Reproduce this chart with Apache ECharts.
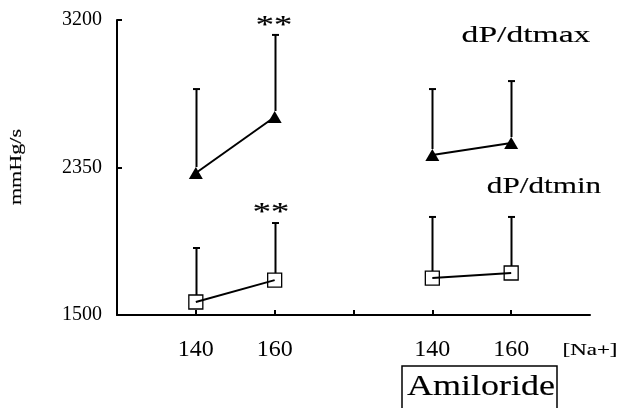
<!DOCTYPE html>
<html>
<head>
<meta charset="utf-8">
<script src="https://cdn.jsdelivr.net/npm/echarts@6/dist/echarts.min.js"></script>
<style>html,body{margin:0;padding:0;background:#fff;}#c{width:618px;height:408px;}</style>
</head>
<body>
<div id="c"></div>
<script>
// ---- data ----
const naLabels = ['140', '160', '140', '160'];
const xPositions = [1, 2, 4, 5];          // slot on the [Na+] axis (3 = gap between groups)
const groupOf = [0, 0, 1, 1];              // 0 = control, 1 = amiloride
const maxMean = [2318, 2641, 2422, 2491];  // dP/dtmax mean
const maxUpper = [2802, 3114, 2802, 2848]; // dP/dtmax mean + SD
const minMean = [1575, 1701, 1713, 1742];  // dP/dtmin mean
const minUpper = [1886, 2030, 2065, 2065]; // dP/dtmin mean + SD
const yTicks = [1500, 2350, 3200];
const xTicks = [1, 2, 3, 4, 5];

const SERIF = '"Liberation Serif", "Times New Roman", serif';
const STROKE = { stroke: '#000', lineWidth: 0.15 };

function pts(mean, g) {
  const out = [];
  for (let i = 0; i < mean.length; i++) if (groupOf[i] === g) out.push([xPositions[i], mean[i]]);
  return out;
}
function errData(mean, upper) {
  return mean.map((m, i) => [xPositions[i], m, upper[i]]);
}
function errSeries(mean, upper, off) {
  return {
    type: 'custom', z: 1, silent: true,
    data: errData(mean, upper),
    renderItem: function (params, api) {
      const p0 = api.coord([api.value(0), api.value(1)]);
      const p1 = api.coord([api.value(0), api.value(2)]);
      const x = Math.round(p0[0]) + 0.5;
      return {
        type: 'group',
        children: [
          { type: 'line', shape: { x1: x, y1: p0[1] - off, x2: x, y2: p1[1] }, style: { stroke: '#000', lineWidth: 2 } },
          { type: 'line', shape: { x1: x - 3.5, y1: p1[1], x2: x + 3.5, y2: p1[1] }, style: { stroke: '#000', lineWidth: 2 } }
        ]
      };
    }
  };
}
function triLine(g) {
  return {
    type: 'line', z: 3, data: pts(maxMean, g),
    symbol: 'triangle', symbolSize: [14, 12],
    lineStyle: { color: '#000', width: 2 },
    itemStyle: { color: '#000' },
    emphasis: { disabled: true }
  };
}
function sqLine(g) {
  return {
    type: 'line', z: 3, data: pts(minMean, g),
    symbol: 'rect', symbolSize: 14,
    lineStyle: { color: '#000', width: 2 },
    itemStyle: { color: 'rgba(255,255,255,0)', borderColor: '#000', borderWidth: 1.3 },
    emphasis: { disabled: true }
  };
}
function txt(x, y, s, size, sx, extra) {
  return Object.assign({
    type: 'text', x: x, y: y, scaleX: sx,
    style: Object.assign({ text: s, font: size + 'px ' + SERIF, fill: '#000', textAlign: 'center', textVerticalAlign: 'middle' }, STROKE)
  }, extra || {});
}

const chart = echarts.init(document.getElementById('c'), null, { renderer: 'canvas' });
chart.setOption({
  animation: false,
  backgroundColor: '#fff',
  grid: { left: 117, right: 28, top: 20, bottom: 93, containLabel: false },
  xAxis: {
    type: 'value', min: 0, max: 6, interval: 1,
    splitLine: { show: false },
    axisLine: { show: true, lineStyle: { color: '#000', width: 2 } },
    axisTick: { show: true, inside: true, length: 5, customValues: xTicks, lineStyle: { color: '#000', width: 2 } },
    axisLabel: {
      customValues: xPositions,
      formatter: function (v) { const i = xPositions.indexOf(v); return i >= 0 ? naLabels[i] : ''; },
      color: '#000', fontFamily: SERIF, fontSize: 24, margin: 23
    }
  },
  yAxis: {
    type: 'value', min: 1500, max: 3200,
    splitLine: { show: false },
    axisLine: { show: true, lineStyle: { color: '#000', width: 2 } },
    axisTick: { show: true, inside: true, length: 5, customValues: yTicks, lineStyle: { color: '#000', width: 2 } },
    axisLabel: {
      customValues: yTicks, formatter: function (v) { return String(v); },
      color: '#000', fontFamily: SERIF, fontSize: 20, margin: 15
    }
  },
  series: [
    errSeries(maxMean, maxUpper, 6),
    errSeries(minMean, minUpper, 7),
    triLine(0), triLine(1), sqLine(0), sqLine(1)
  ],
  graphic: [
    txt(17, 167, 'mmHg/s', 17, 1.3, { rotation: Math.PI / 2 }),
    txt(526, 36, 'dP/dtmax', 24, 1.4),
    txt(544, 187, 'dP/dtmin', 24, 1.3),
    txt(274, 26, '**', 26, 1.4),
    txt(271, 213, '**', 26, 1.4),
    txt(590, 351, '[Na+]', 17, 1.35),
    { type: 'rect', shape: { x: 402, y: 366, width: 155, height: 60 }, style: { fill: 'none', stroke: '#000', lineWidth: 1.5 } },
    txt(481, 387, 'Amiloride', 30, 1.2)
  ]
});
</script>
</body>
</html>
